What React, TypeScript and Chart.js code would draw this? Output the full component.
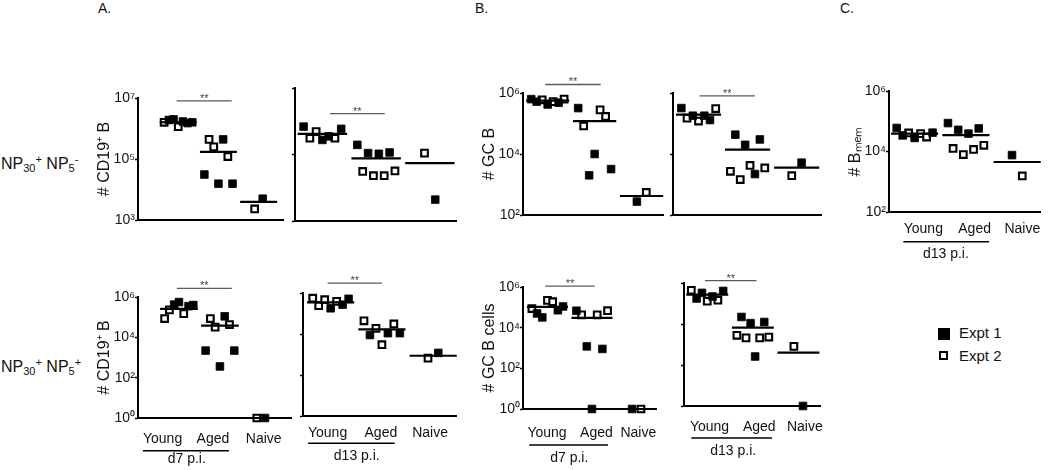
import React, { useEffect, useRef } from "react";
import { Chart, registerables } from "chart.js";

Chart.register(...registerables);

const FONT = "'Liberation Sans', Arial, Helvetica, sans-serif";
Chart.defaults.font.family = FONT;

type Pt = [number, number]; // [cell count, experiment (1 = Expt 1, 2 = Expt 2)]

const groups = ["Young", "Aged", "Naive"];

// ---------- A. # CD19+ B ----------
// NP30+ NP5-, d7 p.i.
const A1_young: Pt[] = [[1.6e6, 2], [1.9e6, 1], [2.0e6, 1], [1.15e6, 2], [1.7e6, 1], [1.5e6, 1], [1.6e6, 1]];
const A1_aged: Pt[] = [[3.1e4, 1], [4.4e5, 2], [2.5e5, 2], [1.55e4, 1], [4.4e5, 1], [1.2e5, 2], [1.55e4, 1]];
const A1_naive: Pt[] = [[2.3e3, 2], [5.0e3, 1]];
const A1_means = [1.6e6, 1.7e5, 3.9e3];
const A1_sig = [0.96, 2.33, 8.1e6];

// NP30+ NP5-, d13 p.i.
const A2_young: Pt[] = [[6.9e5, 1], [3.1e5, 2], [4.9e5, 2], [2.75e5, 1], [3.5e5, 1], [3.1e5, 2], [5.9e5, 1]];
const A2_aged: Pt[] = [[1.95e5, 1], [3.1e4, 2], [1.1e5, 1], [2.3e4, 2], [1.05e5, 1], [2.3e4, 2], [1.15e5, 1], [3.2e4, 2]];
const A2_naive: Pt[] = [[1.1e5, 2], [4.4e3, 1]];
const A2_means = [4.2e5, 7.6e4, 5.5e4];
const A2_sig = [1.14, 2.16, 1.7e6];

// NP30+ NP5+, d7 p.i.
const A3_young: Pt[] = [[8.5e4, 2], [2.3e5, 2], [4.2e5, 1], [5.6e5, 1], [1.5e5, 2], [3.5e5, 1], [4.0e5, 1]];
const A3_aged: Pt[] = [[2.2e3, 1], [8.5e4, 2], [3.2e4, 2], [3.6e2, 1], [1.1e5, 1], [4.3e4, 2], [2.2e3, 1]];
const A3_naive: Pt[] = [[1, 2], [1, 1]];
const A3_means = [2.6e5, 3.8e4, 1];
const A3_sig = [0.95, 2.29, 2.7e6];

// NP30+ NP5+, d13 p.i.
const A4_young: Pt[] = [[5.6e5, 2], [2.4e5, 2], [4.7e5, 2], [1.8e5, 1], [3.9e5, 2], [2.7e5, 1], [5.2e5, 1]];
const A4_aged: Pt[] = [[4.4e4, 2], [8.9e3, 1], [1.9e4, 2], [3.0e3, 2], [1.1e4, 1], [3.1e4, 2], [1.1e4, 1]];
const A4_naive: Pt[] = [[6.6e2, 2], [1.2e3, 1]];
const A4_means = [3.5e5, 1.7e4, 8.7e2];
const A4_sig = [0.94, 2.0, 3.0e6];

// ---------- B. # GC B ----------
// NP30+ NP5-, d7 p.i.
const B1_young: Pt[] = [[6.3e5, 1], [5.2e5, 1], [6.0e5, 2], [4.2e5, 1], [5.2e5, 2], [4.8e5, 1], [6.3e5, 2]];
const B1_aged: Pt[] = [[3.2e5, 1], [8.3e4, 2], [2.0e3, 1], [1.0e4, 1], [2.8e5, 2], [1.7e5, 2], [3.2e3, 1]];
const B1_naive: Pt[] = [[2.75e2, 1], [5.5e2, 2]];
const B1_means = [5.6e5, 1.2e5, 4.2e2];
const B1_sig = [0.95, 2.13, 1.9e6];

// NP30+ NP5-, d13 p.i.
const B2_young: Pt[] = [[3.2e5, 1], [1.5e5, 2], [1.8e5, 1], [1.2e5, 2], [1.8e5, 1], [1.3e5, 1], [3.1e5, 2]];
const B2_aged: Pt[] = [[2.7e3, 2], [4.3e4, 1], [1.45e3, 2], [2.0e4, 1], [4.2e3, 2], [2.2e3, 1], [3.0e4, 1], [3.5e3, 2]];
const B2_naive: Pt[] = [[1.95e3, 2], [5.2e3, 1]];
const B2_means = [1.95e5, 1.4e4, 3.6e3];
const B2_sig = [1.02, 2.15, 8.1e5];

// NP30+ NP5+, d7 p.i.
const B3_young: Pt[] = [[8.7e4, 2], [5.0e4, 1], [3.2e4, 1], [2.2e5, 2], [1.9e5, 2], [7.2e4, 1], [1.1e5, 1]];
const B3_aged: Pt[] = [[6.8e4, 1], [4.3e4, 2], [1.2e3, 1], [1, 1], [4.3e4, 2], [9.0e2, 1], [6.8e4, 2]];
const B3_naive: Pt[] = [[1, 1], [1, 2]];
const B3_means = [1.05e5, 3.0e4, 1];
const B3_sig = [0.95, 2.06, 1.1e6];

// NP30+ NP5+, d13 p.i.
const B4_young: Pt[] = [[4.4e5, 2], [1.75e5, 1], [3.3e5, 1], [1.3e5, 2], [2.2e5, 1], [1.45e5, 2], [4.1e5, 1]];
const B4_aged: Pt[] = [[2.8e3, 2], [2.2e4, 1], [2.1e3, 2], [1.1e4, 1], [2.6e2, 1], [2.1e3, 2], [1.25e4, 1], [2.3e3, 2]];
const B4_naive: Pt[] = [[8.1e2, 2], [1, 1]];
const B4_means = [2.7e5, 6.6e3, 4.0e2];
const B4_sig = [0.95, 2.08, 1.3e6];

// ---------- C. # Bmem, d13 p.i. ----------
const C_young: Pt[] = [[6.0e4, 1], [3.4e4, 1], [4.1e4, 2], [2.8e4, 1], [3.9e4, 2], [3.0e4, 2], [4.2e4, 1]];
const C_aged: Pt[] = [[8.7e4, 1], [1.26e4, 2], [5.2e4, 1], [7.9e3, 2], [3.9e4, 1], [1.17e4, 2], [5.8e4, 1], [1.6e4, 2]];
const C_naive: Pt[] = [[7.6e3, 1], [1.55e3, 2]];
const C_means = [3.9e4, 3.5e4, 4.5e3];

// tick values
const ticks3to7 = [1e3, 1e5, 1e7];
const ticks0to6 = [1, 1e2, 1e4, 1e6];
const ticks2to6 = [1e2, 1e4, 1e6];

interface Under { from: number; to: number; dy: number; text: string; at: number; textDy: number }
interface PanelCfg {
  key: string;
  L: number; R: number; T: number; B: number;
  yMin: number; yMax: number; yTicks: number[];
  yLabels: boolean; title?: string;
  xMin: number; xMax: number;
  xTicks?: number[]; xPad?: number; xH: number;
  under?: Under;
  data: Pt[][]; means: number[]; sig?: number[];
}

const panels: PanelCfg[] = [
  { key: "A1", L: 138, R: 287, T: 98, B: 220, yMin: 1e3, yMax: 1e7, yTicks: ticks3to7, yLabels: true,
    title: "# CD19\u207A B", xMin: 0, xMax: 3.61, xH: 12,
    data: [A1_young, A1_aged, A1_naive], means: A1_means, sig: A1_sig },
  { key: "A2", L: 295, R: 460, T: 88, B: 221, yMin: 1e3, yMax: 1e7, yTicks: ticks3to7, yLabels: false,
    xMin: 0.49, xMax: 3.49, xH: 12,
    data: [A2_young, A2_aged, A2_naive], means: A2_means, sig: A2_sig },
  { key: "A3", L: 138, R: 295, T: 297, B: 418, yMin: 1, yMax: 1e6, yTicks: ticks0to6, yLabels: true,
    title: "# CD19\u207A B", xMin: 0, xMax: 3.74, xTicks: [0.6, 1.83, 3.07], xPad: 12.5, xH: 51,
    under: { from: 0.12, to: 2.22, dy: 32.7, text: "d7 p.i.", at: 1.19, textDy: 45 },
    data: [A3_young, A3_aged, A3_naive], means: A3_means, sig: A3_sig },
  { key: "A4", L: 303, R: 460, T: 293, B: 416, yMin: 1, yMax: 1e6, yTicks: ticks0to6, yLabels: false,
    xMin: 0.46, xMax: 3.45, xTicks: [0.94, 1.98, 2.94], xPad: 9, xH: 53,
    under: { from: 0.56, to: 2.25, dy: 27.3, text: "d13 p.i.", at: 1.51, textDy: 44 },
    data: [A4_young, A4_aged, A4_naive], means: A4_means, sig: A4_sig },
  { key: "B1", L: 523, R: 667, T: 93, B: 215, yMin: 1e2, yMax: 1e6, yTicks: ticks2to6, yLabels: true,
    title: "# GC B", xMin: 0.475, xMax: 3.46, xH: 12,
    data: [B1_young, B1_aged, B1_naive], means: B1_means, sig: B1_sig },
  { key: "B2", L: 673, R: 825, T: 93, B: 215, yMin: 1e2, yMax: 1e6, yTicks: ticks2to6, yLabels: false,
    xMin: 0.48, xMax: 3.5, xH: 12,
    data: [B2_young, B2_aged, B2_naive], means: B2_means, sig: B2_sig },
  { key: "B3", L: 523, R: 670, T: 287, B: 409, yMin: 1, yMax: 1e6, yTicks: ticks0to6, yLabels: true,
    title: "# GC B cells", xMin: 0.45, xMax: 3.4, xTicks: [0.99, 2.1, 3.04], xPad: 16, xH: 60,
    under: { from: 0.59, to: 2.36, dy: 36, text: "d7 p.i.", at: 1.49, textDy: 53 },
    data: [B3_young, B3_aged, B3_naive], means: B3_means, sig: B3_sig },
  { key: "B4", L: 684, R: 833, T: 283, B: 406, yMin: 1, yMax: 1e6, yTicks: ticks0to6, yLabels: false,
    xMin: 0.49, xMax: 3.48, xTicks: [1.05, 2.14, 3.14], xPad: 12.5, xH: 60,
    under: { from: 0.65, to: 2.42, dy: 32, text: "d13 p.i.", at: 1.57, textDy: 49 },
    data: [B4_young, B4_aged, B4_naive], means: B4_means, sig: B4_sig },
  { key: "C", L: 889, R: 1047, T: 91, B: 212, yMin: 1e2, yMax: 1e6, yTicks: ticks2to6, yLabels: true,
    title: "# B\u2098\u2091\u2098", xMin: 0.5, xMax: 3.46, xTicks: [1.17, 2.17, 3.1], xPad: 9, xH: 60,
    under: { from: 0.78, to: 2.45, dy: 29.7, text: "d13 p.i.", at: 1.61, textDy: 46 },
    data: [C_young, C_aged, C_naive], means: C_means },
];

const PAD_TOP = 28;
const PAD_RIGHT = 3;
const Y_W_LABELED = 43;
const Y_W_PLAIN = 8;
const MEAN_HW = 0.46;

const SUP: Record<string, string> = { "0": "\u2070", "1": "\u00B9", "2": "\u00B2", "3": "\u00B3", "4": "\u2074", "5": "\u2075", "6": "\u2076", "7": "\u2077", "8": "\u2078", "9": "\u2079" };
const powLabel = (v: number) => "10" + String(Math.round(Math.log10(v))).split("").map((c) => SUP[c] ?? c).join("");

function buildDatasets(p: PanelCfg) {
  const ds: any[] = [];
  p.means.forEach((m, gi) => {
    const c = gi + 1;
    ds.push({ data: [{ x: c - MEAN_HW, y: m }, { x: c + MEAN_HW, y: m }], showLine: true, borderColor: "#000", borderWidth: 2.2, pointRadius: 0, clip: false });
  });
  if (p.sig) {
    ds.push({ data: [{ x: p.sig[0], y: p.sig[2] }, { x: p.sig[1], y: p.sig[2] }], showLine: true, borderColor: "#5a5a5a", borderWidth: 1.3, pointRadius: 0, clip: false });
  }
  const e1: { x: number; y: number }[] = [];
  const e2: { x: number; y: number }[] = [];
  p.data.forEach((pts, gi) => {
    const n = pts.length;
    const step = n > 1 ? Math.min(0.2, 0.7 / (n - 1)) : 0;
    pts.forEach(([v, e], i) => {
      const x = gi + 1 + (i - (n - 1) / 2) * step;
      (e === 1 ? e1 : e2).push({ x, y: v });
    });
  });
  ds.push({ data: e1, pointStyle: "rect", pointRadius: 5.4, backgroundColor: "#000", borderColor: "#000", borderWidth: 0.8, clip: false });
  ds.push({ data: e2, pointStyle: "rect", pointRadius: 4.7, backgroundColor: "#fff", borderColor: "#000", borderWidth: 2.1, clip: false });
  return ds;
}

function PanelChart({ p }: { p: PanelCfg }) {
  const ref = useRef<HTMLCanvasElement | null>(null);
  const yW = p.yLabels ? Y_W_LABELED : Y_W_PLAIN;
  const width = p.R - p.L + yW + PAD_RIGHT;
  const height = p.B - p.T + PAD_TOP + p.xH;
  const left = p.L - yW;
  const top = p.T - PAD_TOP;

  useEffect(() => {
    if (!ref.current) return;
    const annot = {
      id: "annot" + p.key,
      afterDatasetsDraw(chart: any) {
        const ctx = chart.ctx;
        const xs = chart.scales.x;
        const ys = chart.scales.y;
        const area = chart.chartArea;
        ctx.save();
        if (p.sig) {
          ctx.fillStyle = "#444";
          ctx.font = `11px ${FONT}`;
          ctx.textAlign = "center";
          ctx.textBaseline = "alphabetic";
          ctx.fillText("**", xs.getPixelForValue((p.sig[0] + p.sig[1]) / 2), ys.getPixelForValue(p.sig[2]) + 1);
        }
        if (p.under) {
          const u = p.under;
          ctx.strokeStyle = "#000";
          ctx.lineWidth = 1.5;
          ctx.beginPath();
          ctx.moveTo(xs.getPixelForValue(u.from), area.bottom + u.dy);
          ctx.lineTo(xs.getPixelForValue(u.to), area.bottom + u.dy);
          ctx.stroke();
          ctx.fillStyle = "#111";
          ctx.font = `14px ${FONT}`;
          ctx.textAlign = "center";
          ctx.textBaseline = "alphabetic";
          ctx.fillText(u.text, xs.getPixelForValue(u.at), area.bottom + u.textDy);
        }
        ctx.restore();
      },
    };
    const chart = new Chart(ref.current, {
      type: "scatter",
      data: { datasets: buildDatasets(p) },
      options: {
        responsive: false,
        animation: false,
        devicePixelRatio: 1,
        events: [],
        layout: { padding: { left: 0, top: PAD_TOP, right: PAD_RIGHT, bottom: 0 } },
        plugins: { legend: { display: false }, tooltip: { enabled: false } },
        scales: {
          x: {
            type: "linear",
            min: p.xMin,
            max: p.xMax,
            grid: { display: false, drawTicks: false, tickLength: 0 },
            border: { display: true, color: "#000", width: 2 },
            ticks: {
              display: !!p.xTicks,
              padding: p.xPad ?? 0,
              autoSkip: false,
              maxRotation: 0,
              color: "#111",
              font: { size: 14 },
              callback: (_v: any, i: number) => groups[i] ?? "",
            },
            afterBuildTicks: (s: any) => {
              s.ticks = (p.xTicks ?? [1, 2, 3]).map((v) => ({ value: v }));
            },
            afterFit: (s: any) => {
              s.height = p.xH;
            },
          },
          y: {
            type: "logarithmic",
            min: p.yMin,
            max: p.yMax,
            grid: { display: true, drawOnChartArea: false, drawTicks: true, tickLength: 3, tickWidth: 1.5, tickColor: "#000" },
            border: { display: true, color: "#000", width: 2 },
            ticks: {
              display: p.yLabels,
              padding: 0,
              autoSkip: false,
              color: "#111",
              font: { size: 14 },
              callback: (v: any) => powLabel(Number(v)),
            },
            afterBuildTicks: (s: any) => {
              s.ticks = p.yTicks.map((v) => ({ value: v }));
            },
            title: { display: !!p.title, text: p.title ?? "", color: "#111", font: { size: 16 }, padding: 0 },
            afterFit: (s: any) => {
              s.width = yW;
            },
          },
        },
      } as any,
      plugins: [annot],
    } as any);
    return () => chart.destroy();
  }, []);

  return (
    <canvas
      ref={ref}
      width={width}
      height={height}
      style={{ position: "absolute", left, top, width, height }}
    />
  );
}

const subS: React.CSSProperties = { fontSize: 11, lineHeight: 0, verticalAlign: "-0.3em" };
const supS: React.CSSProperties = { fontSize: 11, lineHeight: 0, verticalAlign: "0.55em" };

function RowLabel({ top, sign }: { top: number; sign: string }) {
  return (
    <div style={{ position: "absolute", left: 1, top, fontSize: 16, lineHeight: "16px", whiteSpace: "nowrap", color: "#111" }}>
      NP<sub style={subS}>30</sub><sup style={supS}>+</sup> NP<sub style={subS}>5</sub><sup style={supS}>{sign}</sup>
    </div>
  );
}

export default function App() {
  return (
    <div style={{ position: "absolute", left: 0, top: 0, width: 1050, height: 470, overflow: "hidden", background: "#fff", fontFamily: FONT }}>
      {panels.map((p) => (
        <PanelChart key={p.key} p={p} />
      ))}
      <div style={{ position: "absolute", left: 98, top: 1, fontSize: 14, lineHeight: "14px", color: "#111" }}>A.</div>
      <div style={{ position: "absolute", left: 475, top: 1, fontSize: 14, lineHeight: "14px", color: "#111" }}>B.</div>
      <div style={{ position: "absolute", left: 840, top: 1, fontSize: 14, lineHeight: "14px", color: "#111" }}>C.</div>
      <RowLabel top={156} sign={"-"} />
      <RowLabel top={359} sign={"+"} />
      <div style={{ position: "absolute", left: 938, top: 328, width: 12, height: 12, background: "#000" }} />
      <div style={{ position: "absolute", left: 959, top: 325, fontSize: 15, lineHeight: "15px", color: "#111" }}>Expt 1</div>
      <div style={{ position: "absolute", left: 939, top: 351, width: 9, height: 9, border: "2px solid #000", boxSizing: "border-box" }} />
      <div style={{ position: "absolute", left: 959, top: 348, fontSize: 15, lineHeight: "15px", color: "#111" }}>Expt 2</div>
    </div>
  );
}
